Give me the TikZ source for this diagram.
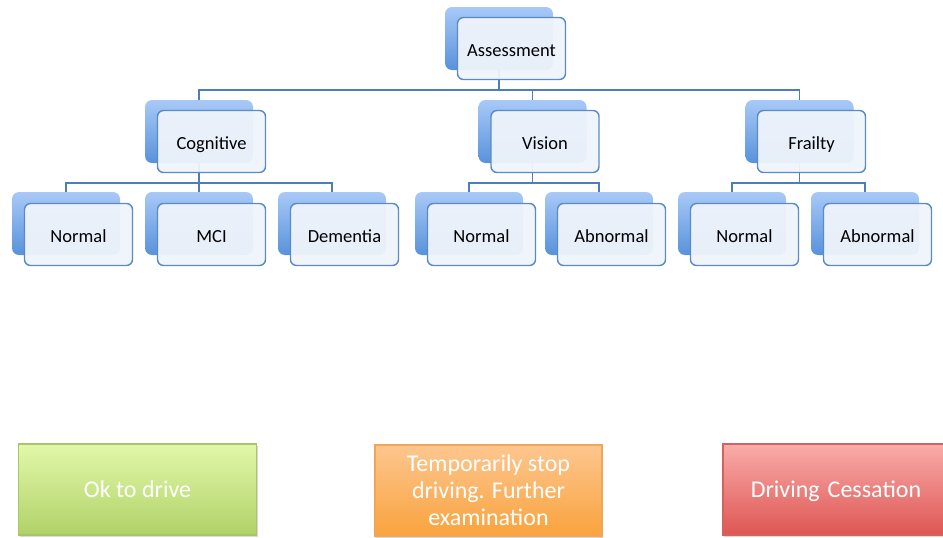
\documentclass[tikz,border=0pt]{standalone}
\usepackage{fontspec}
\setmainfont{Carlito}
\usetikzlibrary{shadows}

\definecolor{backtop}{HTML}{A8C9F7}
\definecolor{backbot}{HTML}{5892DB}
\definecolor{frontfill}{HTML}{EFF4FB}
\definecolor{frontline}{HTML}{5B8BC6}
\definecolor{connline}{HTML}{4C7EBC}
\definecolor{greentop}{HTML}{E2F8AA}
\definecolor{greenbot}{HTML}{B0D268}
\definecolor{greenline}{HTML}{A8C56A}
\definecolor{orangetop}{HTML}{FDC68F}
\definecolor{orangebot}{HTML}{F9A33D}
\definecolor{orangeline}{HTML}{F1A657}
\definecolor{redtop}{HTML}{F9ACAA}
\definecolor{redbot}{HTML}{DE5653}
\definecolor{redline}{HTML}{D4625F}

\tikzset{
  backbox/.style={rounded corners=7pt, minimum width=108pt, minimum height=63pt,
    inner sep=0pt, top color=backtop, bottom color=backbot, draw=none},
  frontbox/.style={rounded corners=6pt, minimum width=108pt, minimum height=62pt,
    inner sep=0pt, draw=frontline, line width=1.4pt, fill=frontfill,
    fill opacity=0.95, text opacity=1, text height=16pt, text depth=1pt,
    font=\fontsize{18.5}{22}\selectfont},
  conn/.style={draw=connline, line width=1.5pt},
  outcome/.style={minimum height=91pt, inner sep=0pt, line width=1.2pt,
    text=white, align=center, font=\fontsize{24}{27}\selectfont,
    drop shadow={shadow xshift=1.2pt, shadow yshift=-1.6pt, opacity=0.3}},
}

\begin{document}
\begin{tikzpicture}[x=1pt, y=-1pt]
\useasboundingbox (0,0) rectangle (943,538);

% horizontal bus lines of the tree
\coordinate (bus1) at (0,90);
\coordinate (bus2) at (0,183);

% --- back tiles (blue gradient) ---
\node[backbox] (assessB) at (499,38.5) {};
\node[backbox] (cogB)    at (199,131.5) {};
\node[backbox] (visB)    at (532.5,131.5) {};
\node[backbox] (frailB)  at (799.5,131.5) {};
\node[backbox] (cnB)  at (66,223.5) {};
\node[backbox] (mciB) at (199,223.5) {};
\node[backbox] (demB) at (332,223.5) {};
\node[backbox] (vnB)  at (469,223.5) {};
\node[backbox] (vaB)  at (599,223.5) {};
\node[backbox] (fnB)  at (732,223.5) {};
\node[backbox] (faB)  at (865,223.5) {};

% --- connectors ---
\draw[conn] (assessB.south) -- (assessB.south |- bus1) -| (cogB.north);
\draw[conn] (assessB.south |- bus1) -| (visB.north);
\draw[conn] (assessB.south |- bus1) -| (frailB.north);
\draw[conn] (cogB.south) -- (cogB.south |- bus2) -| (cnB.north);
\draw[conn] (cogB.south |- bus2) -- (mciB.north);
\draw[conn] (cogB.south |- bus2) -| (demB.north);
\draw[conn] (visB.south) -- (visB.south |- bus2) -| (vnB.north);
\draw[conn] (visB.south |- bus2) -| (vaB.north);
\draw[conn] (frailB.south) -- (frailB.south |- bus2) -| (fnB.north);
\draw[conn] (frailB.south |- bus2) -| (faB.north);

% --- front tiles with labels ---
\node[frontbox] (assess) at (511.5,48.5) {Assessment};
\node[frontbox] (cog)    at (211.5,141.5) {Cognitive};
\node[frontbox] (vis)    at (545,141.5) {Vision};
\node[frontbox] (frail)  at (811.5,141.5) {Frailty};
\node[frontbox] (cn)  at (78.5,234.5) {Normal};
\node[frontbox] (mci) at (211.5,234.5) {MCI};
\node[frontbox] (dem) at (344.5,234.5) {Dementia};
\node[frontbox] (vn)  at (481.5,234.5) {Normal};
\node[frontbox] (va)  at (611.5,234.5) {Abnormal};
\node[frontbox] (fn)  at (744.5,234.5) {Normal};
\node[frontbox] (fa)  at (877.5,234.5) {Abnormal};

% --- outcome boxes ---
\node[outcome, minimum width=238pt, top color=greentop, bottom color=greenbot,
  draw=greenline, text height=18pt, text depth=2pt] (ok) at (137.5,489.5) {Ok to drive};
\node[outcome, minimum width=227pt, top color=orangetop, bottom color=orangebot,
  draw=orangeline] (stop) at (488.5,490.5)
  {Temporarily stop\\driving. Further\\examination};
\node[outcome, minimum width=238pt, top color=redtop, bottom color=redbot,
  draw=redline, text width=238pt, text height=18pt, text depth=2pt] (cease) at (842,489.5)
  {\hspace*{-12pt}Driving Cessation};
\end{tikzpicture}
\end{document}
